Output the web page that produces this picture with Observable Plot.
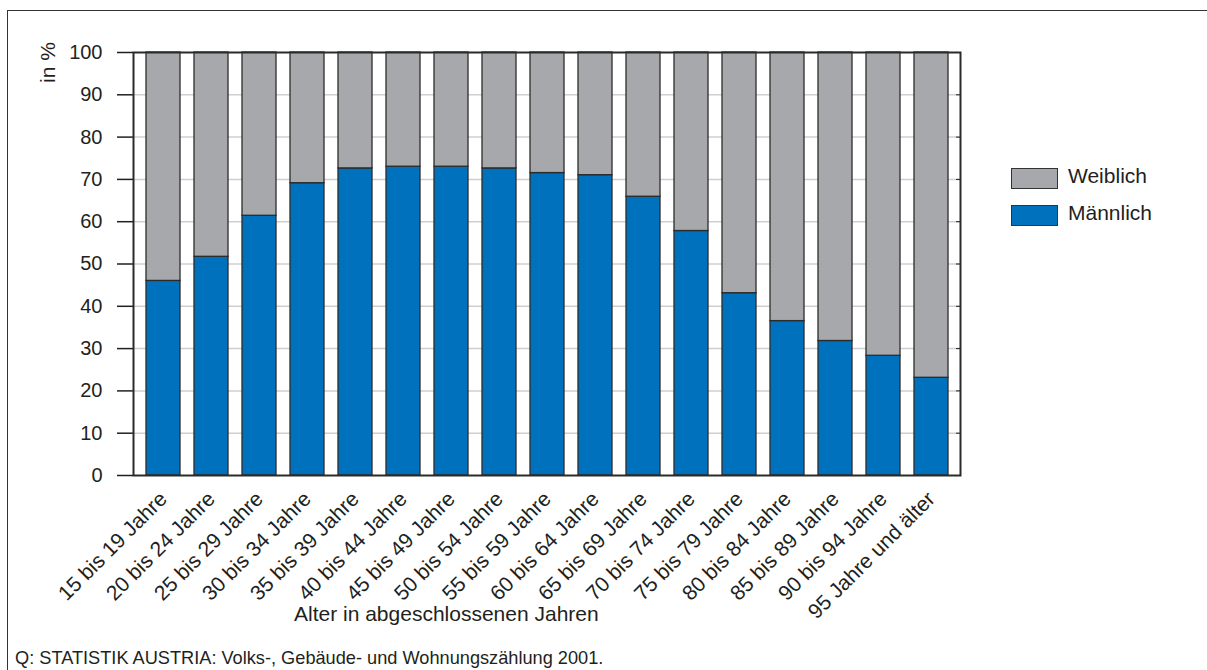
<!DOCTYPE html>
<html><head><meta charset="utf-8">
<script src="https://cdn.jsdelivr.net/npm/d3@7"></script>
<script src="https://cdn.jsdelivr.net/npm/@observablehq/plot@0.6"></script>
<style>
body{margin:0;width:1207px;height:670px;overflow:hidden;position:relative;font-family:"Liberation Sans",Arial,sans-serif;background:#fff;color:#231f20}
#frame{position:absolute;left:7px;top:10px;width:1230px;height:720px;border:1.5px solid #333;box-sizing:border-box}
#chart{position:absolute;left:0;top:0}
#ylab{position:absolute;left:53px;top:43px;transform-origin:0 0;transform:translate(-17px,40px) rotate(-90deg);font-size:21px;line-height:24px;white-space:nowrap}
#xlab{position:absolute;left:294px;top:602px;font-size:21px;line-height:24px;white-space:nowrap}
#caption{position:absolute;left:15px;top:648px;font-size:18.2px;line-height:21px;white-space:nowrap}
.leg{position:absolute;left:1011px;width:47px;height:21px;border:1.5px solid #333;box-sizing:border-box}
.legt{position:absolute;left:1068px;font-size:21px;line-height:24px;white-space:nowrap}
</style></head>
<body>
<div id="frame"></div>
<div id="chart"></div>
<div id="ylab">in %</div>
<div id="xlab">Alter in abgeschlossenen Jahren</div>
<div id="legend"></div>
<div id="caption">Q: STATISTIK AUSTRIA: Volks-, Gebäude- und Wohnungszählung 2001.</div>
<script>
const ageGroups = ["15 bis 19 Jahre","20 bis 24 Jahre","25 bis 29 Jahre","30 bis 34 Jahre","35 bis 39 Jahre","40 bis 44 Jahre","45 bis 49 Jahre","50 bis 54 Jahre","55 bis 59 Jahre","60 bis 64 Jahre","65 bis 69 Jahre","70 bis 74 Jahre","75 bis 79 Jahre","80 bis 84 Jahre","85 bis 89 Jahre","90 bis 94 Jahre","95 Jahre und älter"];
const maleShare = [46.0, 51.7, 61.4, 69.1, 72.6, 73.0, 73.0, 72.6, 71.5, 71.0, 65.9, 57.8, 43.1, 36.5, 31.8, 28.3, 23.1];
const femaleShare = [54.0, 48.3, 38.6, 30.9, 27.4, 27.0, 27.0, 27.4, 28.5, 29.0, 34.1, 42.2, 56.9, 63.5, 68.2, 71.7, 76.9];
const seriesNames = ["Männlich","Weiblich"];
const seriesColors = ["#0071bc","#a7a8ab"];
const yTicks = [0,10,20,30,40,50,60,70,80,90,100];
const gridTicks = [10,20,30,40,50,60,70,80,90];
const legendOrder = ["Weiblich","Männlich"];

const rows = [];
ageGroups.forEach((a,i)=>rows.push({age:a, sex:seriesNames[0], value:maleShare[i]}));
ageGroups.forEach((a,i)=>rows.push({age:a, sex:seriesNames[1], value:femaleShare[i]}));

const chart = Plot.plot({
  width: 1207,
  height: 670,
  marginLeft: 133,
  marginRight: 247,
  marginTop: 52,
  marginBottom: 195,
  style: {fontFamily: "'Liberation Sans', Arial, sans-serif", color: "#231f20", background: "transparent", overflow: "visible"},
  x: {domain: ageGroups, paddingInner: 0.3, paddingOuter: 0.15, label: null},
  y: {domain: [0,100], label: null},
  color: {domain: seriesNames, range: seriesColors},
  marks: [
    Plot.gridY(gridTicks, {stroke: "#cfcfcf", strokeOpacity: 1, strokeWidth: 1.5}),
    Plot.barY(rows, {x: "age", y: "value", fill: "sex", stroke: "#2b2b2b", strokeWidth: 1.3, order: seriesNames}),
    Plot.axisY(yTicks, {tickSize: 16, tickPadding: 15, fontSize: 20, strokeWidth: 1.5, label: null}),
    Plot.axisY(gridTicks, {anchor: "right", tickSize: -5, tickFormat: () => "", strokeWidth: 1, label: null}),
    Plot.axisX({tickSize: 0, tickPadding: 20, tickRotate: -45, fontSize: 21, label: null}),
    Plot.frame({stroke: "#2b2b2b", strokeWidth: 2})
  ]
});
document.getElementById("chart").appendChild(chart);

const legend = document.getElementById("legend");
const legTops = [168, 205];
legendOrder.forEach((name,i)=>{
  const b = document.createElement("div");
  b.className = "leg";
  b.style.top = legTops[i] + "px";
  b.style.background = seriesColors[seriesNames.indexOf(name)];
  legend.appendChild(b);
  const t = document.createElement("div");
  t.className = "legt";
  t.style.top = (legTops[i] - 4) + "px";
  t.textContent = name;
  legend.appendChild(t);
});
</script>
</body></html>
